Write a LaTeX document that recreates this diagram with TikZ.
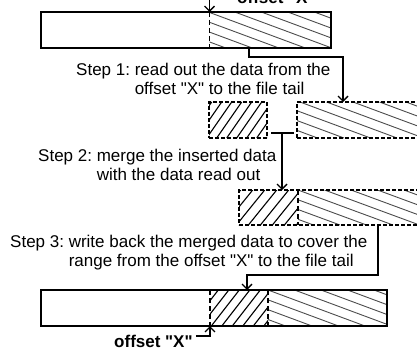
\documentclass[tikz,border=0pt]{standalone}
\usepackage{fontspec}
\setmainfont{Liberation Sans}[Ligatures=TeXOff]
\usetikzlibrary{arrows.meta,calc}
\begin{document}
\frenchspacing
\begin{tikzpicture}[x=1pt,y=-1pt,
  solidbox/.style={draw,line width=1.9pt,inner sep=0pt,outer sep=0pt,anchor=north west},
  dashbox/.style={draw,line width=1.4pt,dash pattern=on 4pt off 2pt,inner sep=0pt,outer sep=0pt,anchor=north west},
  divider/.style={line width=1.5pt,dash pattern=on 5pt off 3pt},
  backhatch/.style={line width=0.9pt,black!70},
  fwdhatch/.style={line width=1.1pt,black},
  conn/.style={line width=1.7pt,-{Straight Barb[length=5pt,width=10pt,line width=1.4pt]}},
  link/.style={line width=1.7pt},
  steptext/.style={inner sep=0pt,anchor=north west,align=left,font=\fontsize{17pt}{18.8pt}\selectfont},
  offtext/.style={inner sep=0pt,anchor=base west,font=\fontsize{17pt}{20pt}\selectfont\bfseries}]
\useasboundingbox (0,0) rectangle (417,350);
\clip (0,0) rectangle (417,350);

% ---- hatching: "\" = data after offset X, "/" = inserted data ----
\begin{scope}
  \clip (209.5,12) rectangle (331,48);
  \foreach \k in {-4,...,5} \draw[backhatch] ({208.3+26.5*\k},12) -- ++(97,36);
\end{scope}
\begin{scope}
  \clip (209,102) rectangle (267,138);
  \foreach \k in {-1,...,8} \draw[fwdhatch] ({196.7+10*\k},138) -- ++(25,-36);
\end{scope}
\begin{scope}
  \clip (297,102) rectangle (417,138);
  \foreach \k in {-4,...,5} \draw[backhatch] ({300+26.5*\k},102) -- ++(97,36);
\end{scope}
\begin{scope}
  \clip (239,190) rectangle (298,225);
  \foreach \k in {-1,...,7} \draw[fwdhatch] ({224.4+12*\k},225) -- ++(28.3,-35);
\end{scope}
\begin{scope}
  \clip (298,190) rectangle (417,225);
  \foreach \k in {-4,...,5} \draw[backhatch] ({298+26.5*\k},190) -- ++(95,35);
\end{scope}
\begin{scope}
  \clip (210,290) rectangle (268,326);
  \foreach \k in {0,...,8} \draw[fwdhatch] ({190.3+10.5*\k},326) -- ++(28,-36);
\end{scope}
\begin{scope}
  \clip (268,290) rectangle (387,326);
  \foreach \k in {-4,...,5} \draw[backhatch] ({268+26.5*\k},290) -- ++(97,36);
\end{scope}

% ---- file blocks ----
\node[solidbox,minimum width=290pt,minimum height=36pt] (A) at (41,12) {};
\node[dashbox,minimum width=58pt,minimum height=36pt] (B1) at (209,102) {};
\node[dashbox,minimum width=140pt,minimum height=36pt] (B2) at (297,102) {};
\node[dashbox,minimum width=190pt,minimum height=35pt] (C) at (239,190) {};
\node[solidbox,minimum width=346pt,minimum height=36pt] (D) at (41,290) {};

% offset boundaries inside the blocks
\draw[divider] ($(A.north west)+(168.5,0)$) -- ($(A.south west)+(168.5,0)$);
\draw[divider] ($(C.north west)+(59,0)$) -- ($(C.south west)+(59,0)$);
\draw[divider] ($(D.north west)+(169,0)$) -- ($(D.south west)+(169,0)$);
\draw[divider] ($(D.north west)+(227,0)$) -- ($(D.south west)+(227,0)$);

% ---- labels ----
\node[offtext] (offtop) at (237,3.5) {offset "X"};
\node[offtext] (offbot) at (114,347.5) {offset "X"};
\node[steptext] (s1) at (76,63.3) {Step 1: read out the data from the\\\phantom{Step 1: }offset "X" to the file tail};
\node[steptext] (s2) at (38,149.3) {Step 2: merge the inserted data\\\phantom{Step 2: }with the data read out};
\node[steptext] (s3) at (10,235) {Step 3: write back the merged data to cover the\\\phantom{Step 3: }range from the offset "X" to the file tail};

% ---- connectors ----
\coordinate (topin) at ($(A.north west)+(168.5,-16)$);
\draw[conn] (topin) -- ($(A.north west)+(168.5,0)$);
\draw[conn] ($(A.south west)+(208,0)$) -- ++(0,9) -| ($(B2.north west)+(46,0)$);
\draw[link] ($(B1.south east)+(4,-5)$) -- ($(B2.south west)+(-3,-5)$);
\draw[conn] ($(B1.south east)+(15,-5)$) -- ($(C.north west)+(43,0)$);
\draw[conn] ($(C.south west)+(139,0)$) -- ++(0,50) -| ($(D.north west)+(206,0)$);
\draw[conn] ($(offbot.base east)+(3,-11.5)$) -| ($(D.south west)+(169,0)$);
\end{tikzpicture}
\end{document}
